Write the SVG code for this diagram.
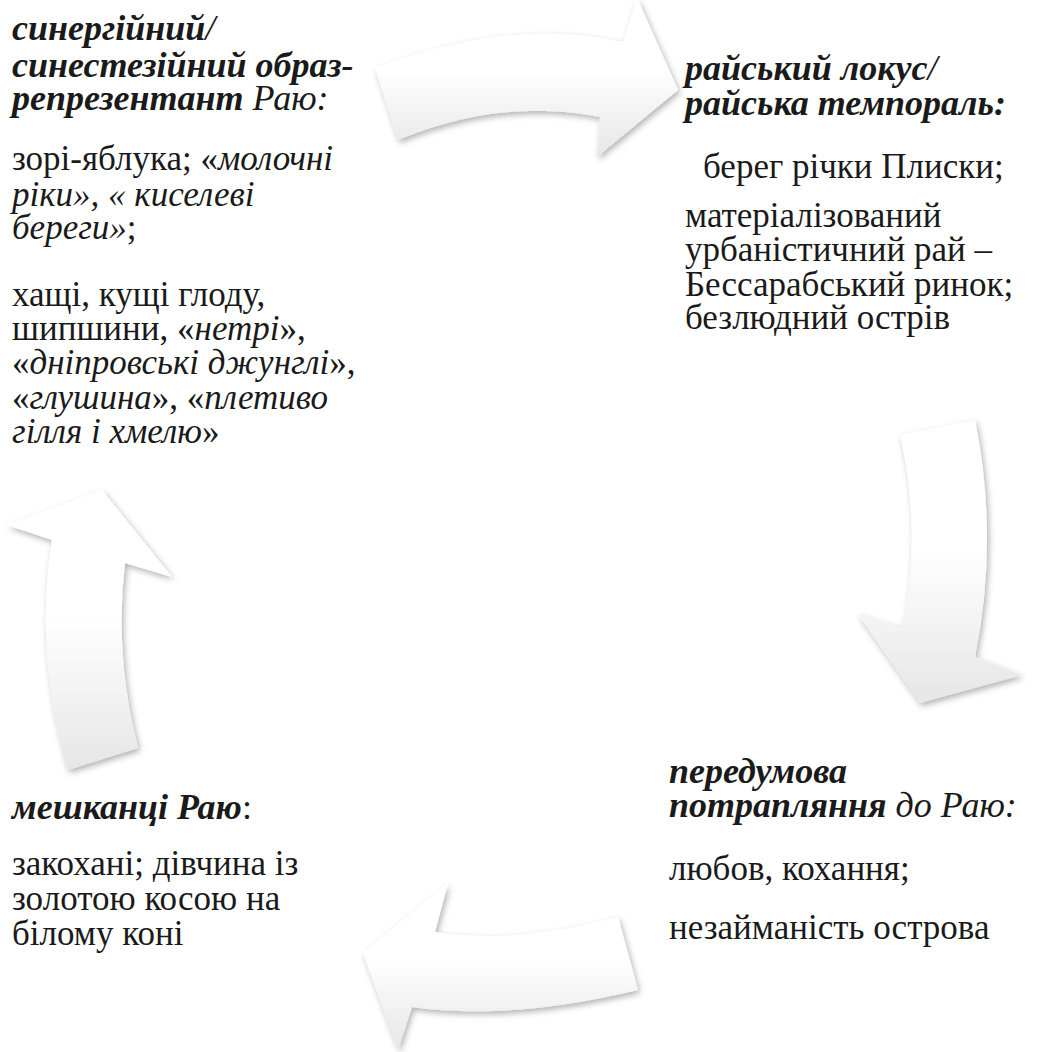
<svg xmlns="http://www.w3.org/2000/svg" width="1046" height="1052" viewBox="0 0 1046 1052">
  <defs>
    <linearGradient id="arrowFill" x1="0" y1="0" x2="0" y2="1">
      <stop offset="0" stop-color="#ffffff"/>
      <stop offset="0.45" stop-color="#ffffff"/>
      <stop offset="1" stop-color="#e6e6e6"/>
    </linearGradient>
    <filter id="arrowShadow" x="-20%" y="-20%" width="140%" height="140%">
      <feDropShadow dx="2" dy="3" stdDeviation="3" flood-color="#000000" flood-opacity="0.3"/>
    </filter>
    <style>
      .arrow { fill: url(#arrowFill); filter: url(#arrowShadow); }
      .txt text { font-size: 35px; fill: #1a1a1a; }
      .txt text.h { font-size: 36px; }
      .h { font-style: italic; font-weight: bold; }
      .i { font-style: italic; }
      .n { font-style: normal; font-weight: normal; }
      .ni { font-style: italic; font-weight: normal; }
    </style>
  </defs>

  <rect width="1046" height="1052" fill="#ffffff"/>

  <!-- curved arrows of the cycle -->
  <g id="connectors">
    <path class="arrow" d="M375,68 Q511,17 623,42 L637,-2 L678,90 L597,157 L600,117 Q501,97 398,140 Z"/>
    <path class="arrow" d="M900,435 L975,420 Q999,538 975,657 L1022,675 L920,703 L857,613 L903,628 Q922,530 900,435 Z"/>
    <path class="arrow" d="M618,917 L638,990 Q509,1021 412,1007 L398,1050 L363,953 L448,883 L435,932 Q514,945 618,917 Z"/>
    <path class="arrow" d="M68,770 L138,748 Q114,654 125,563 L172,577 L102,490 L7,525 L52,540 Q34,655 68,770 Z"/>
  </g>

  <!-- top-left: synergetic image -->
  <g id="node-image" class="txt" font-family="serif">
    <text x="12" y="40" class="h">синергійний<tspan class="ni">/</tspan></text>
    <text x="12" y="77" class="h">синестезійний образ-</text>
    <text x="12" y="110" class="h">репрезентант <tspan class="ni">Раю:</tspan></text>
    <text x="12" y="170">зорі-яблука; «<tspan class="i">молочні</tspan></text>
    <text x="12" y="206" class="i">ріки», « киселеві</text>
    <text x="12" y="239"><tspan class="i">береги»</tspan>;</text>
    <text x="12" y="306">хащі, кущі глоду,</text>
    <text x="12" y="340">шипшини, «<tspan class="i">нетрі</tspan>»,</text>
    <text x="12" y="374">«<tspan class="i">дніпровські джунглі</tspan>»,</text>
    <text x="12" y="409">«<tspan class="i">глушина</tspan>», «<tspan class="i">плетиво</tspan></text>
    <text x="12" y="443"><tspan class="i">гілля і хмелю</tspan>»</text>
  </g>

  <!-- top-right: paradise locus -->
  <g id="node-locus" class="txt" font-family="serif">
    <text x="685" y="80" class="h">райський локус<tspan class="ni">/</tspan></text>
    <text x="685" y="115" class="h">райська темпораль:</text>
    <text x="703" y="178">берег річки Плиски;</text>
    <text x="685" y="227">матеріалізований</text>
    <text x="685" y="261">урбаністичний рай –</text>
    <text x="685" y="296">Бессарабський ринок;</text>
    <text x="685" y="329">безлюдний острів</text>
  </g>

  <!-- bottom-right: precondition -->
  <g id="node-precondition" class="txt" font-family="serif">
    <text x="669" y="783" class="h">передумова</text>
    <text x="669" y="817" class="h">потрапляння <tspan class="ni">до Раю:</tspan></text>
    <text x="669" y="880">любов, кохання;</text>
    <text x="669" y="939">незайманість острова</text>
  </g>

  <!-- bottom-left: inhabitants -->
  <g id="node-inhabitants" class="txt" font-family="serif">
    <text x="12" y="819" class="h">мешканці Раю<tspan class="n">:</tspan></text>
    <text x="12" y="875">закохані; дівчина із</text>
    <text x="12" y="910">золотою косою на</text>
    <text x="12" y="945">білому коні</text>
  </g>
</svg>
